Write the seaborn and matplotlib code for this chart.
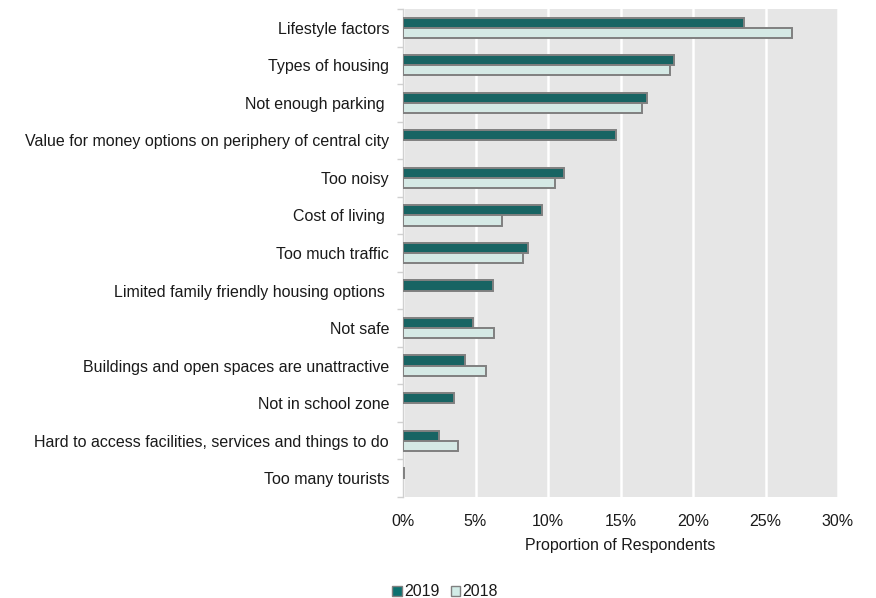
import matplotlib
matplotlib.use("Agg")
import matplotlib.pyplot as plt
from matplotlib.patches import Patch
from matplotlib.ticker import FixedLocator, PercentFormatter
import numpy as np
import pandas as pd
import seaborn as sns

categories = [
    "Lifestyle factors",
    "Types of housing",
    "Not enough parking ",
    "Value for money options on periphery of central city",
    "Too noisy",
    "Cost of living ",
    "Too much traffic",
    "Limited family friendly housing options ",
    "Not safe",
    "Buildings and open spaces are unattractive",
    "Not in school zone",
    "Hard to access facilities, services and things to do",
    "Too many tourists",
]
values_2019 = [23.5, 18.7, 16.8, 14.7, 11.1, 9.6, 8.6, 6.2, 4.85, 4.3, 3.5, 2.5, 0.1]
values_2018 = [26.8, 18.4, 16.5, None, 10.5, 6.8, 8.3, None, 6.3, 5.7, None, 3.8, None]
years = ["2019", "2018"]
colors = ["#0b716f", "#d2ece7"]
edge = "#808080"

rows = []
for cat, a, b in zip(categories, values_2019, values_2018):
    rows.append({"category": cat, "year": "2019", "value": a})
    if b is not None:
        rows.append({"category": cat, "year": "2018", "value": b})
df = pd.DataFrame(rows)

sns.set_theme(style="white")
plt.rcParams["font.family"] = ["Liberation Sans", "DejaVu Sans"]
fs = 11.5

fig = plt.figure(figsize=(8.76, 5.98), dpi=100)
ax = fig.add_axes([403 / 876, 1 - 497 / 598, 435 / 876, 488 / 598])
ax.set_facecolor("#e6e6e6")

sns.barplot(
    data=df, y="category", x="value", hue="year",
    order=categories, hue_order=years, palette=colors,
    orient="h", width=0.54, edgecolor=edge, linewidth=1.4,
    errorbar=None, legend=False, ax=ax, zorder=3,
)

ax.set_xlim(0, 30)
ax.set_ylim(len(categories) - 0.5, -0.5)
ax.set_xticks(np.arange(0, 31, 5))
ax.xaxis.set_major_formatter(PercentFormatter(decimals=0))
ax.grid(axis="x", color="white", linewidth=1.8, zorder=0)
ax.set_axisbelow(True)
for s in ["top", "right", "bottom"]:
    ax.spines[s].set_visible(False)
ax.spines["left"].set_color("#d0d0d0")
ax.spines["left"].set_linewidth(1.0)

ax.yaxis.set_minor_locator(FixedLocator(np.arange(-0.5, len(categories), 1.0)))
ax.tick_params(axis="y", which="major", length=0, pad=10, labelsize=fs, labelcolor="#1a1a1a")
ax.tick_params(axis="y", which="minor", length=4, color="#d0d0d0", width=1, left=True)
ax.tick_params(axis="x", length=0, pad=12, labelsize=fs, labelcolor="#1a1a1a")

ax.set_ylabel("")
ax.set_xlabel("Proportion of Respondents", fontsize=fs, color="#1a1a1a", labelpad=7)

handles = [Patch(facecolor=c, edgecolor=edge, linewidth=1.0, label=y) for c, y in zip(colors, years)]
fig.legend(
    handles=handles, loc="center", bbox_to_anchor=(0.508, 1 - 592 / 598), ncol=2,
    frameon=False, fontsize=fs, handlelength=0.6, handleheight=0.6, borderpad=0,
    handletextpad=0.15, columnspacing=0.7, labelcolor="#1a1a1a",
)

fig.savefig("out.png", dpi=100)
